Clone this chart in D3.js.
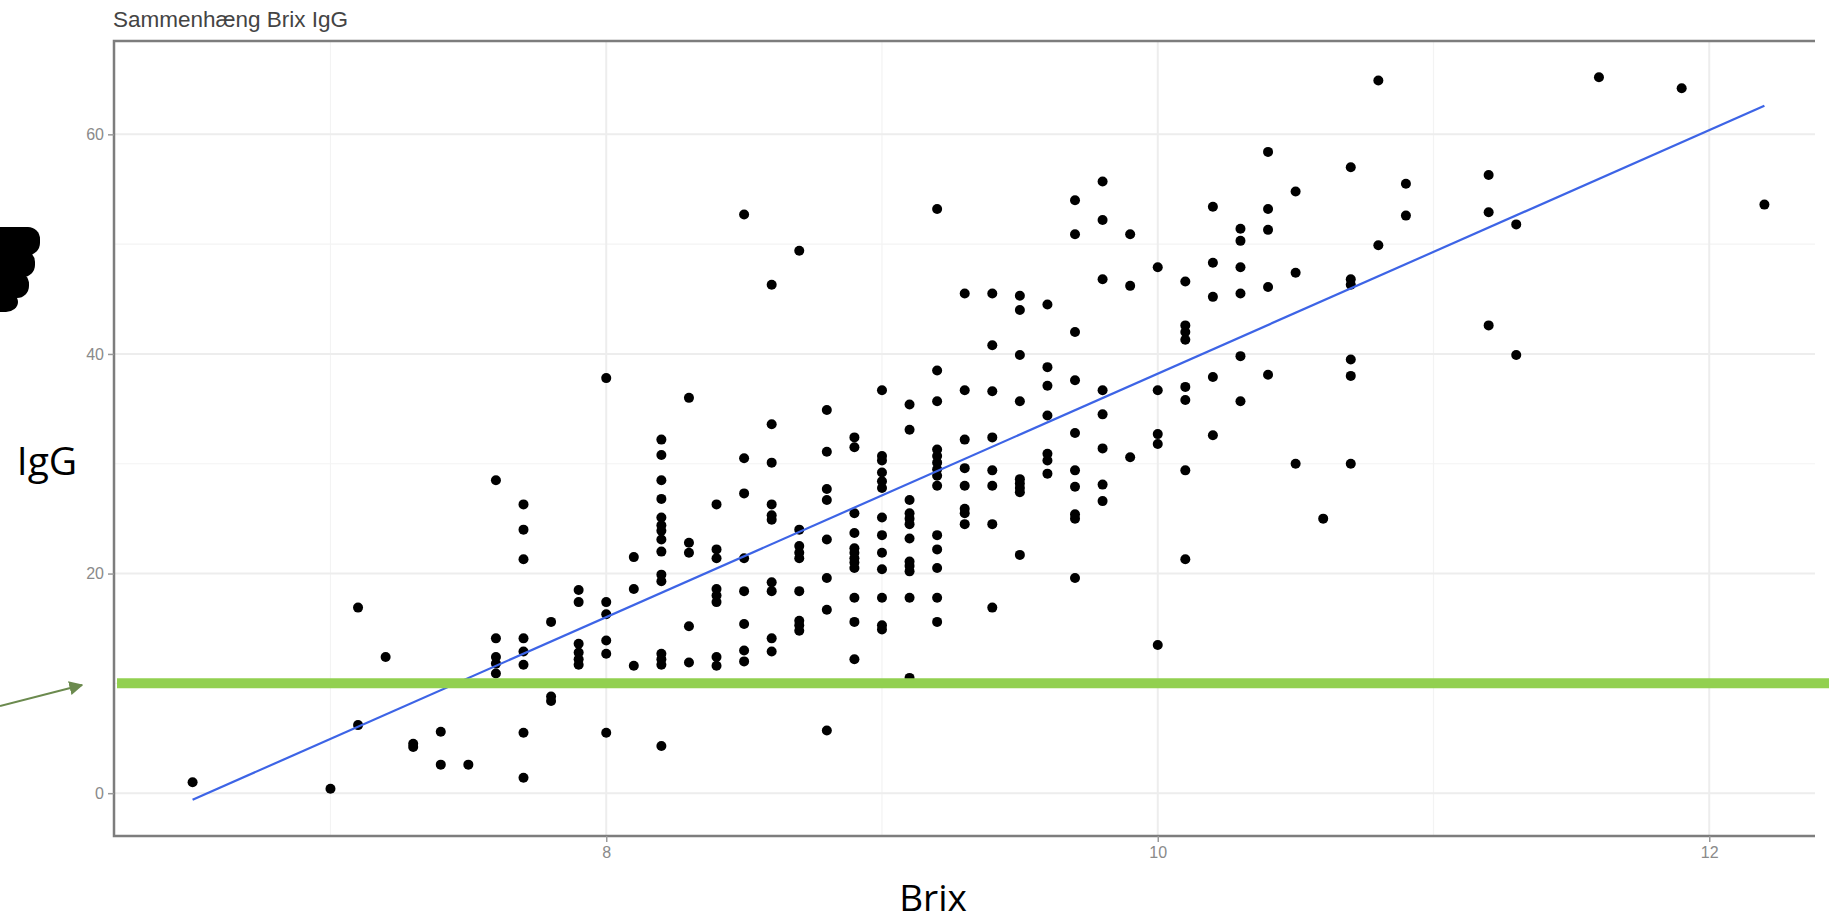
<!DOCTYPE html>
<html>
<head>
<meta charset="utf-8">
<script src="https://cdn.jsdelivr.net/npm/d3@7"></script>
<style>
  body { margin: 0; background: #fff; }
  svg { display: block; }
</style>
</head>
<body>
<div id="chart"></div>
<script>
// Brix levels (one column of dots per 0.1 Brix) and the IgG values read in each column
var brixLevels = [6.5, 7.0, 7.1, 7.2, 7.3, 7.4, 7.5, 7.6, 7.7, 7.8, 7.9, 8.0, 8.1, 8.2, 8.3, 8.4,
                  8.5, 8.6, 8.7, 8.8, 8.9, 9.0, 9.1, 9.2, 9.3, 9.4, 9.5, 9.6, 9.7, 9.8, 9.9,
                  10.0, 10.1, 10.2, 10.3, 10.4, 10.5, 10.6, 10.7, 10.8, 10.9, 11.2, 11.3, 11.6, 11.9, 12.2];
var iggValues = [
    [1.0], [0.4], [16.9, 6.2], [12.4], [4.5, 4.2], [5.6, 2.6], [2.6],
    [28.5, 14.1, 12.4, 11.8, 10.9],
    [26.3, 24.0, 21.3, 14.1, 12.9, 11.7, 5.5, 1.4],
    [15.6, 8.8, 8.4],
    [18.5, 17.4, 13.6, 12.8, 12.2, 11.7],
    [37.8, 17.4, 16.3, 13.9, 12.7, 5.5],
    [21.5, 18.6, 11.6],
    [32.2, 30.8, 28.5, 26.8, 25.1, 24.4, 23.9, 23.1, 22.0, 19.9, 19.3, 12.7, 12.2, 11.7, 4.3],
    [36.0, 22.8, 21.9, 15.2, 11.9],
    [26.3, 22.2, 21.4, 18.6, 18.0, 17.4, 12.4, 11.6],
    [52.7, 30.5, 27.3, 21.4, 18.4, 15.4, 13.0, 12.0],
    [46.3, 33.6, 30.1, 26.3, 25.3, 24.9, 19.2, 18.4, 14.1, 12.9],
    [49.4, 24.0, 22.5, 21.9, 21.4, 18.4, 15.7, 15.3, 14.8],
    [34.9, 31.1, 27.7, 26.7, 23.1, 19.6, 16.7, 5.7],
    [32.4, 31.5, 25.5, 23.7, 22.3, 21.9, 21.4, 21.0, 20.5, 17.8, 15.6, 12.2],
    [36.7, 30.7, 30.3, 29.2, 28.4, 27.8, 25.1, 23.5, 21.9, 20.4, 17.8, 15.3, 14.9],
    [35.4, 33.1, 26.7, 25.5, 25.0, 24.5, 23.2, 21.1, 20.7, 20.2, 17.8, 10.5],
    [53.2, 38.5, 35.7, 31.3, 30.7, 30.1, 29.5, 28.9, 28.0, 23.5, 22.2, 20.5, 17.8, 15.6],
    [45.5, 36.7, 32.2, 29.6, 28.0, 25.9, 25.5, 24.5],
    [45.5, 40.8, 36.6, 32.4, 29.4, 28.0, 24.5, 16.9],
    [45.3, 44.0, 39.9, 35.7, 28.6, 28.2, 27.8, 27.4, 21.7],
    [44.5, 38.8, 37.1, 34.4, 30.9, 30.3, 29.1],
    [54.0, 50.9, 42.0, 37.6, 32.8, 29.4, 27.9, 25.4, 25.0, 19.6],
    [55.7, 52.2, 46.8, 36.7, 34.5, 31.4, 28.1, 26.6],
    [50.9, 46.2, 30.6],
    [47.9, 36.7, 32.7, 31.8, 13.5],
    [46.6, 42.6, 42.0, 41.3, 37.0, 35.8, 29.4, 21.3],
    [53.4, 48.3, 45.2, 37.9, 32.6],
    [51.4, 50.3, 47.9, 45.5, 39.8, 35.7],
    [58.4, 53.2, 51.3, 46.1, 38.1],
    [54.8, 47.4, 30.0],
    [25.0],
    [57.0, 46.8, 46.3, 39.5, 38.0, 30.0],
    [64.9, 49.9],
    [55.5, 52.6],
    [56.3, 52.9, 42.6],
    [51.8, 39.9],
    [65.2],
    [64.2],
    [53.6]
];
// linear fit (geom_smooth lm) end points
var fitBrix = [6.5, 12.2];
var fitIgG = [-0.6, 62.6];
// cutoff line drawn on top
var cutoff = 10;
var xTicks = [8, 10, 12];
var xMinor = [7, 9, 11];
var yTicks = [0, 20, 40, 60];
var yMinor = [10, 30, 50];

var w = 1829, h = 923;
var pLeft = 114, pRight = 1815, pTop = 41, pBottom = 836;

var points = [];
brixLevels.forEach(function(b, i){
    iggValues[i].forEach(function(v){ points.push({brix: b, igg: v}); });
});

var xScale = d3.scaleLinear().domain([6.215, 12.485]).range([pLeft, 1843]);
var yScale = d3.scaleLinear().domain([-3.9, 68.5]).range([pBottom, pTop]);

var svg = d3.select("#chart").append("svg")
            .attr("width", w)
            .attr("height", h);

var defs = svg.append("defs");
defs.append("clipPath").attr("id", "panel")
    .append("rect")
    .attr("x", pLeft).attr("y", pTop)
    .attr("width", pRight - pLeft).attr("height", pBottom - pTop);

var panel = svg.append("g").attr("clip-path", "url(#panel)");

// grid
panel.selectAll("line.ymin").data(yMinor).enter().append("line")
    .attr("x1", pLeft).attr("x2", pRight)
    .attr("y1", function(d){ return yScale(d); })
    .attr("y2", function(d){ return yScale(d); })
    .attr("stroke", "#f3f3f3").attr("stroke-width", 1.2);
panel.selectAll("line.xmin").data(xMinor).enter().append("line")
    .attr("y1", pTop).attr("y2", pBottom)
    .attr("x1", function(d){ return xScale(d); })
    .attr("x2", function(d){ return xScale(d); })
    .attr("stroke", "#f3f3f3").attr("stroke-width", 1.2);
panel.selectAll("line.ymaj").data(yTicks).enter().append("line")
    .attr("x1", pLeft).attr("x2", pRight)
    .attr("y1", function(d){ return yScale(d); })
    .attr("y2", function(d){ return yScale(d); })
    .attr("stroke", "#ededed").attr("stroke-width", 2);
panel.selectAll("line.xmaj").data(xTicks).enter().append("line")
    .attr("y1", pTop).attr("y2", pBottom)
    .attr("x1", function(d){ return xScale(d); })
    .attr("x2", function(d){ return xScale(d); })
    .attr("stroke", "#ededed").attr("stroke-width", 2);

// points
panel.selectAll("circle").data(points).enter().append("circle")
    .attr("cx", function(d){ return xScale(d.brix); })
    .attr("cy", function(d){ return yScale(d.igg); })
    .attr("r", 5)
    .attr("fill", "#000");

// fitted line
var fit = fitBrix.map(function(b, i){ return [b, fitIgG[i]]; });
panel.append("path")
    .datum(fit)
    .attr("d", d3.line()
        .x(function(d){ return xScale(d[0]); })
        .y(function(d){ return yScale(d[1]); }))
    .attr("fill", "none")
    .attr("stroke", "#3d64e6")
    .attr("stroke-width", 2.2);

// panel border (right side is cut off in the original)
svg.append("path")
    .attr("d", "M" + pRight + "," + pTop + "H" + pLeft + "V" + pBottom + "H" + pRight)
    .attr("fill", "none")
    .attr("stroke", "#7d7d7d")
    .attr("stroke-width", 2.5);

// axes
var yAxis = svg.append("g")
    .attr("transform", "translate(" + pLeft + ",0)")
    .call(d3.axisLeft(yScale).tickValues(yTicks).tickFormat(d3.format("d")).tickSize(6).tickPadding(4));
var xAxis = svg.append("g")
    .attr("transform", "translate(0," + pBottom + ")")
    .call(d3.axisBottom(xScale).tickValues(xTicks).tickFormat(d3.format("d")).tickSize(6).tickPadding(5));
[yAxis, xAxis].forEach(function(a){
    a.select(".domain").remove();
    a.selectAll(".tick line").attr("stroke", "#9a9a9a").attr("stroke-width", 1.5);
    a.selectAll(".tick text")
        .attr("fill", "#8a8a8a")
        .style("font-family", "'Liberation Sans', Arial, sans-serif")
        .style("font-size", "16px");
});

// title
svg.append("text")
    .attr("x", 113).attr("y", 27)
    .attr("fill", "#444")
    .style("font-family", "'Liberation Sans', Arial, sans-serif")
    .style("font-size", "22.5px")
    .text("Sammenhæng Brix IgG");

// cutoff line at IgG 10
svg.append("line")
    .attr("x1", pLeft + 3).attr("x2", w)
    .attr("y1", yScale(cutoff)).attr("y2", yScale(cutoff))
    .attr("stroke", "#92d050")
    .attr("stroke-width", 10);

// arrow pointing at the cutoff line
defs.append("marker")
    .attr("id", "head")
    .attr("viewBox", "0 0 10 10")
    .attr("refX", 9).attr("refY", 5)
    .attr("markerWidth", 7).attr("markerHeight", 7)
    .attr("orient", "auto")
    .append("path").attr("d", "M0,0L10,5L0,10Z").attr("fill", "#6b8a4e");
svg.append("line")
    .attr("x1", 0).attr("y1", 706)
    .attr("x2", 82).attr("y2", 685)
    .attr("stroke", "#6b8a4e")
    .attr("stroke-width", 2)
    .attr("marker-end", "url(#head)");

// black shape at the left edge
var blob = svg.append("g").attr("fill", "#000");
[[227, 28, 40], [250, 27, 35], [272, 26, 29], [292, 20, 18]].forEach(function(r){
    blob.append("rect")
        .attr("x", -14).attr("y", r[0])
        .attr("width", r[2] + 14).attr("height", r[1])
        .attr("rx", 12);
});

// axis titles
svg.append("text")
    .attr("x", 47).attr("y", 475)
    .attr("text-anchor", "middle")
    .style("font-family", "'Open Sans', sans-serif")
    .style("font-size", "39px")
    .text("IgG");
svg.append("text")
    .attr("x", 933).attr("y", 911)
    .attr("text-anchor", "middle")
    .style("font-family", "'Open Sans', sans-serif")
    .style("font-size", "37px")
    .text("Brix");
</script>
</body>
</html>
